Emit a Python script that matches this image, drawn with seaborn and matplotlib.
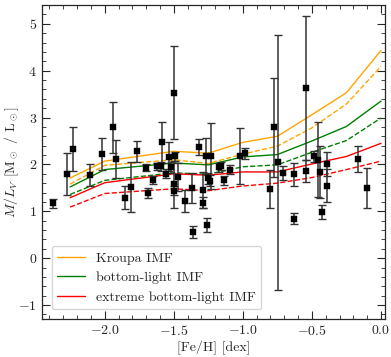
"""M/L_V versus [Fe/H] with SSP model predictions for three IMFs."""

import numpy as np
import pandas as pd
import matplotlib
matplotlib.use("Agg")
import matplotlib.pyplot as plt
from matplotlib.ticker import MultipleLocator
import seaborn as sns

# observed clusters
feh_obs = [-2.375, -2.275, -2.233, -2.103, -2.022, -1.94, -1.92, -1.85, -1.81, -1.767,
           -1.70, -1.69, -1.647, -1.62, -1.59, -1.588, -1.557, -1.535, -1.522, -1.50,
           -1.49, -1.50, -1.50, -1.47, -1.417, -1.37, -1.36, -1.316, -1.29, -1.287,
           -1.27, -1.257, -1.255, -1.24, -1.23, -1.174, -1.157, -1.135, -1.093, -1.017,
           -0.985, -0.80, -0.775, -0.743, -0.71, -0.632, -0.632, -0.542, -0.542, -0.483,
           -0.456, -0.441, -0.43, -0.392, -0.392, -0.167, -0.098]
ml_obs = [1.17, 1.80, 2.33, 1.78, 2.23, 2.79, 2.11, 1.29, 1.52, 2.28,
          1.93, 1.39, 1.67, 1.96, 1.96, 2.47, 1.80, 2.16, 1.94, 3.53,
          2.17, 1.58, 1.44, 1.73, 1.22, 1.50, 0.56, 2.38, 1.46, 1.18,
          2.18, 0.71, 1.70, 1.65, 2.18, 1.94, 1.97, 1.66, 1.89, 2.18,
          2.24, 1.47, 2.79, 2.05, 1.82, 1.79, 0.84, 1.86, 3.63, 2.17,
          2.10, 1.84, 0.99, 2.01, 1.55, 2.11, 1.50]
ml_err = [0.10, 0.45, 0.46, 0.23, 0.34, 0.55, 0.41, 0.25, 0.54, 0.22,
          0.07, 0.10, 0.08, 0.08, 0.10, 0.43, 0.10, 0.31, 0.12, 0.99,
          0.10, 0.50, 0.10, 0.30, 0.23, 0.32, 0.13, 0.17, 0.38, 0.12,
          0.39, 0.15, 0.12, 0.12, 0.70, 0.10, 0.08, 0.10, 0.10, 0.60,
          0.12, 0.41, 1.05, 2.72, 0.15, 0.25, 0.12, 0.24, 1.53, 0.12,
          0.80, 0.55, 0.15, 0.26, 0.35, 0.28, 0.43]

# model grid
feh_model = [-2.25, -2.0, -1.5, -1.25, -1.0, -0.75, -0.5, -0.25, 0.0]
kroupa = [1.71, 2.07, 2.28, 2.24, 2.47, 2.60, 3.06, 3.53, 4.43]
kroupa_dash = [1.58, 1.98, 2.10, 2.02, 2.22, 2.39, 2.78, 3.29, 4.09]
bottom_light = [1.52, 1.89, 2.03, 1.99, 2.16, 2.21, 2.50, 2.81, 3.35]
bottom_light_dash = [1.36, 1.66, 1.82, 1.79, 1.95, 1.99, 2.26, 2.51, 2.99]
extreme = [1.29, 1.61, 1.80, 1.77, 1.84, 1.84, 2.01, 2.17, 2.45]
extreme_dash = [1.09, 1.38, 1.48, 1.44, 1.54, 1.60, 1.72, 1.89, 2.07]

imf_labels = ["Kroupa IMF", "bottom-light IMF", "extreme bottom-light IMF"]
imf_colors = ["orange", "green", "red"]

sns.set_style("ticks")
plt.rcParams["font.family"] = "cmr10"
plt.rcParams["mathtext.fontset"] = "cm"
plt.rcParams["axes.formatter.use_mathtext"] = True
plt.rcParams["font.size"] = 10

fig = plt.figure(figsize=(3.91, 3.57), dpi=100)
ax = fig.add_axes([0.107, 0.106, 0.878, 0.880])

solid = [kroupa, bottom_light, extreme]
dashed = [kroupa_dash, bottom_light_dash, extreme_dash]
for lab, col, ys, yd in zip(imf_labels, imf_colors, solid, dashed):
    sns.lineplot(x=feh_model, y=ys, color=col, lw=1.0, label=lab, ax=ax, sort=False)
    sns.lineplot(x=feh_model, y=yd, color=col, lw=1.0, ls="--", ax=ax, sort=False)

ax.errorbar(feh_obs, ml_obs, yerr=ml_err, fmt="none", ecolor="0.2", elinewidth=1.1,
            capsize=3, capthick=1.0, zorder=3)
sns.scatterplot(x=feh_obs, y=ml_obs, marker="s", s=22, color="black",
                edgecolor="black", linewidth=0.3, ax=ax, zorder=4)

ax.set_xlim(-2.455, 0.03)
ax.set_ylim(-1.3, 5.4)
ax.xaxis.set_major_locator(MultipleLocator(0.5))
ax.xaxis.set_minor_locator(MultipleLocator(0.1))
ax.yaxis.set_major_locator(MultipleLocator(1))
ax.yaxis.set_minor_locator(MultipleLocator(0.2))
ax.tick_params(which="both", direction="in", top=True, right=True, labelsize=10)
ax.tick_params(which="major", length=6, width=0.8)
ax.tick_params(which="minor", length=3, width=0.6)
for sp in ax.spines.values():
    sp.set_linewidth(0.9)

ax.set_xlabel("[Fe/H] [dex]", fontsize=10, labelpad=2)
ax.set_ylabel(r"$M/L_V$ [M$_\odot$ / L$_\odot$]", fontsize=10)
ax.yaxis.set_label_coords(-0.062, 0.5)

ax.legend(loc="lower left", fontsize=10, frameon=True, fancybox=True,
          borderaxespad=0.7, handlelength=2.0)

fig.savefig("out.png", dpi=100)
